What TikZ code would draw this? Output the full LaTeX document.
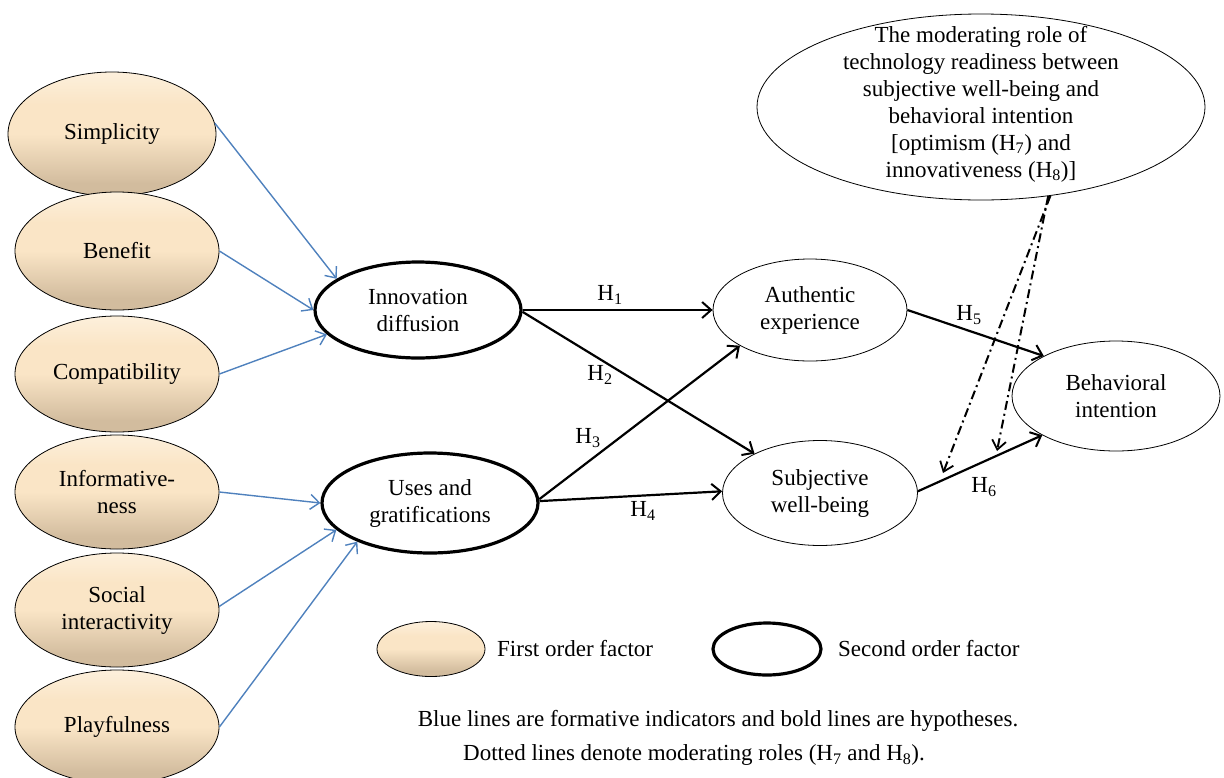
\documentclass[tikz,border=0pt]{standalone}
\usepackage{fontspec}
\setmainfont{Liberation Serif}
\usetikzlibrary{shapes.geometric,arrows.meta}
\definecolor{bluearrow}{RGB}{79,129,189}
\definecolor{creamtop}{RGB}{253,240,220}
\definecolor{creammid}{RGB}{250,229,198}
\definecolor{creambot}{RGB}{210,188,158}
\pgfdeclareverticalshading{creamshade}{100bp}{color(0bp)=(creambot); color(30bp)=(creambot); color(50bp)=(creammid); color(62bp)=(creammid); color(75bp)=(creamtop); color(100bp)=(creamtop)}
\tikzset{
  nodefont/.style={font=\fontsize{23}{27}\selectfont},
  first/.style={ellipse, draw=black, line width=0.8pt, shading=creamshade, inner sep=0pt, align=center, nodefont},
  second/.style={ellipse, draw=black, line width=3.2pt, fill=white, inner sep=0pt, align=center, nodefont},
  plain/.style={ellipse, draw=black, line width=0.8pt, fill=white, inner sep=0pt, align=center, nodefont},
  blueline/.style={draw=bluearrow, line width=1.4pt, -{Straight Barb[length=9pt,width=15pt,line width=1.4pt]}},
  hyp/.style={draw=black, line width=2.2pt, -{Straight Barb[length=9pt,width=16pt,line width=2pt]}},
  modline/.style={draw=black, line width=2pt, dash pattern=on 9pt off 4pt on 2pt off 4pt, -{Straight Barb[length=9pt,width=14pt,line width=1.8pt]}},
  lab/.style={font=\fontsize{23}{27}\selectfont, inner sep=0pt},
  txt/.style={font=\fontsize{23}{27}\selectfont, inner sep=0pt, align=center}
}
\begin{document}
\begin{tikzpicture}[x=1pt,y=-1pt]
\useasboundingbox (0,0) rectangle (1224,777);
% first-order factors
\node[first, minimum width=208pt, minimum height=124pt] (simp) at (112,134) {Simplicity};
\node[first, minimum width=204pt, minimum height=118pt] (ben) at (117,251) {Benefit};
\node[first, minimum width=204pt, minimum height=116pt] (comp) at (117,374) {Compatibility};
\node[first, minimum width=204pt, minimum height=114pt] (info) at (117,492) {Informative-\\ness};
\node[first, minimum width=204pt, minimum height=114pt] (soc) at (117,610) {Social\\interactivity};
\node[first, minimum width=204pt, minimum height=114pt] (play) at (117,727) {Playfulness};
% second-order factors
\node[second, minimum width=206pt, minimum height=96pt] (inno) at (418,310) {Innovation\\diffusion};
\node[second, minimum width=216pt, minimum height=100pt] (uses) at (430,503) {Uses and\\gratifications};
% outcome constructs
\node[plain, minimum width=194pt, minimum height=102pt] (auth) at (810,310) {Authentic\\experience};
\node[plain, minimum width=195pt, minimum height=105pt] (swb) at (820,493) {Subjective\\well-being};
\node[plain, minimum width=208pt, minimum height=110pt] (bi) at (1116,396) {Behavioral\\intention};
\node[plain, minimum width=448pt, minimum height=186pt] (mod) at (981,107) {};
\node[txt] (modtext) at (981,104) {The moderating role of\\technology readiness between\\subjective well-being and\\behavioral intention\\{}[optimism (H\textsubscript{7}) and\\innovativeness (H\textsubscript{8})]};
% formative indicators
\draw[blueline] (simp.6) -- (inno.159);
\draw[blueline] (ben.0) -- (inno.180);
\draw[blueline] (comp.0) -- (inno.195);
\draw[blueline] (info.0) -- (uses.180);
\draw[blueline] (soc.2) -- (uses.196);
\draw[blueline] (play.0) -- (uses.208);
% hypotheses
\draw[hyp] (inno.0) -- (auth.180);
\draw[hyp] (inno.-1) -- (swb.149);
\draw[hyp] (uses.2) -- (auth.207);
\draw[hyp] (uses.1) -- (swb.179);
\draw[hyp] (auth.0) -- (bi.151);
\draw[hyp] (swb.1) -- (bi.208);
\node[lab] (h1) at (610,295) {H\textsubscript{1}};
\node[lab] (h2) at (600,375) {H\textsubscript{2}};
\node[lab] (h3) at (588,438) {H\textsubscript{3}};
\node[lab] (h4) at (643,511) {H\textsubscript{4}};
\node[lab] (h5) at (969,315) {H\textsubscript{5}};
\node[lab] (h6) at (984,487) {H\textsubscript{6}};
% moderating roles
\coordinate (m7) at (943,473);
\coordinate (m8) at (997,451);
\draw[modline] (mod.-52.5) -- (m7);
\draw[modline] (mod.-53) -- (m8);
% legend
\node[first, minimum width=108pt, minimum height=55pt] (lg1) at (431,649) {};
\node[txt, anchor=west] (lg1t) at (497,649) {First order factor};
\node[second, minimum width=108pt, minimum height=52pt] (lg2) at (767,649) {};
\node[txt, anchor=west] (lg2t) at (838,649) {Second order factor};
\node[txt] (note1) at (718,721) {Blue lines are formative indicators and bold lines are hypotheses.};
\node[txt] (note2) at (694,755) {Dotted lines denote moderating roles (H\textsubscript{7} and H\textsubscript{8}).};
\end{tikzpicture}
\end{document}
